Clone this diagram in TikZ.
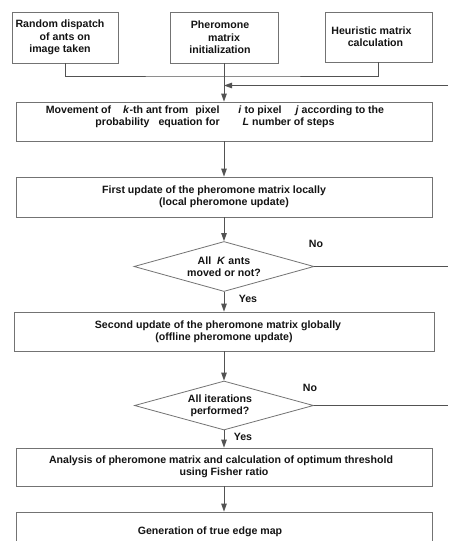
\documentclass[tikz,border=0pt]{standalone}
\usepackage{fontspec}
\setmainfont{Liberation Sans}
\usetikzlibrary{shapes.geometric,arrows.meta}
\definecolor{linegray}{gray}{0.32}
\definecolor{boxgray}{gray}{0.45}
\definecolor{txt}{gray}{0.08}
\begin{document}
\begin{tikzpicture}[x=1pt,y=-1pt,
  font=\fontsize{10.6}{12.3}\selectfont\bfseries,
  box/.style={draw=boxgray, line width=0.8pt, rectangle, inner sep=0pt, text=txt, align=center},
  dec/.style={draw=boxgray, line width=0.8pt, diamond, aspect=3.6, inner sep=0pt, text=txt, align=center},
  conn/.style={draw=linegray, line width=0.8pt},
  arr/.style={conn, -{Triangle[length=8pt,width=5.5pt]}},
  lbl/.style={text=txt, inner sep=0pt}
]
\useasboundingbox (0,0) rectangle (448,541);
\clip (0,0) rectangle (448,541);
\fill[white] (0,0) rectangle (448,541);

% top boxes
\node[box, minimum width=106pt, minimum height=51pt] (b1) at (65,37.5) {Random dispatch\hspace*{10pt}\\of ants on\hspace*{10pt}\\image taken\hspace*{10pt}};
\node[box, minimum width=108pt, minimum height=51pt] (b2) at (224,37.5) {Pheromone\hspace*{8pt}\\matrix\hspace*{8pt}\\initialization\hspace*{8pt}};
\node[box, minimum width=107pt, minimum height=50pt] (b3) at (378.5,37) {Heuristic matrix\hspace*{14pt}\\calculation\hspace*{6pt}};

\coordinate (jn) at (224,76);
\coordinate (fbR) at (448,85.5);
\coordinate (fbJ) at (224,85.5);

% main boxes
\node[box, minimum width=416pt, minimum height=39pt,
  label={[lbl, align=center, yshift=5pt, xshift=-9pt]center:{Movement of\hspace{9pt} \textit{k}-th ant from\hspace{4pt} pixel\hspace{16pt} \textit{i} to pixel\hspace{11pt} \textit{j} according to the\\probability\hspace{6pt} equation for\hspace{20pt} \textit{L} number of steps}}] (b4) at (224,121.5) {};
\node[box, minimum width=416pt, minimum height=40pt] (b5) at (224,197) {First update of the pheromone matrix locally\hspace*{20pt}\\(local pheromone update)};
\node[dec, minimum width=180pt, minimum height=50pt] (d1) at (224,266.5) {All\hspace{3pt} \textit{K} ants\\moved or not?};
\node[box, minimum width=420pt, minimum height=39pt] (b6) at (224,331.5) {Second update of the pheromone matrix globally\hspace*{12pt}\\(offline pheromone update)};
\node[dec, minimum width=179pt, minimum height=49pt] (d2) at (224,405.5) {All iterations\hspace*{8pt}\\performed?\hspace*{8pt}};
\node[box, minimum width=416pt, minimum height=38pt] (b7) at (224,467) {Analysis of pheromone matrix and calculation of optimum threshold\hspace*{6pt}\\using Fisher ratio};
\node[box, minimum width=416pt, minimum height=40pt] (b8) at (224,532) {Generation of true edge map\hspace*{28pt}};

\coordinate (r1) at (448,266.5);
\coordinate (r2) at (448,405.5);

% labels
\node[lbl] (no1) at (316,244) {No};
\node[lbl] (no2) at (310,388) {No};
\node[lbl] (yes1) at (248,299) {Yes};
\node[lbl] (yes2) at (243,437) {Yes};

% connectors
\draw[conn] (b1.south) |- (jn) -| (b3.south);
\draw[arr] (b2.south) -- (b4.north);
\draw[arr] (fbR) -- (fbJ);
\draw[arr] (b4.south) -- (b5.north);
\draw[arr] (b5.south) -- (d1.north);
\draw[conn] (d1.east) -- (r1);
\draw[arr] (d1.south) -- (b6.north);
\draw[arr] (b6.south) -- (d2.north);
\draw[conn] (d2.east) -- (r2);
\draw[arr] (d2.south) -- (b7.north);
\draw[arr] (b7.south) -- (b8.north);
\end{tikzpicture}
\end{document}
